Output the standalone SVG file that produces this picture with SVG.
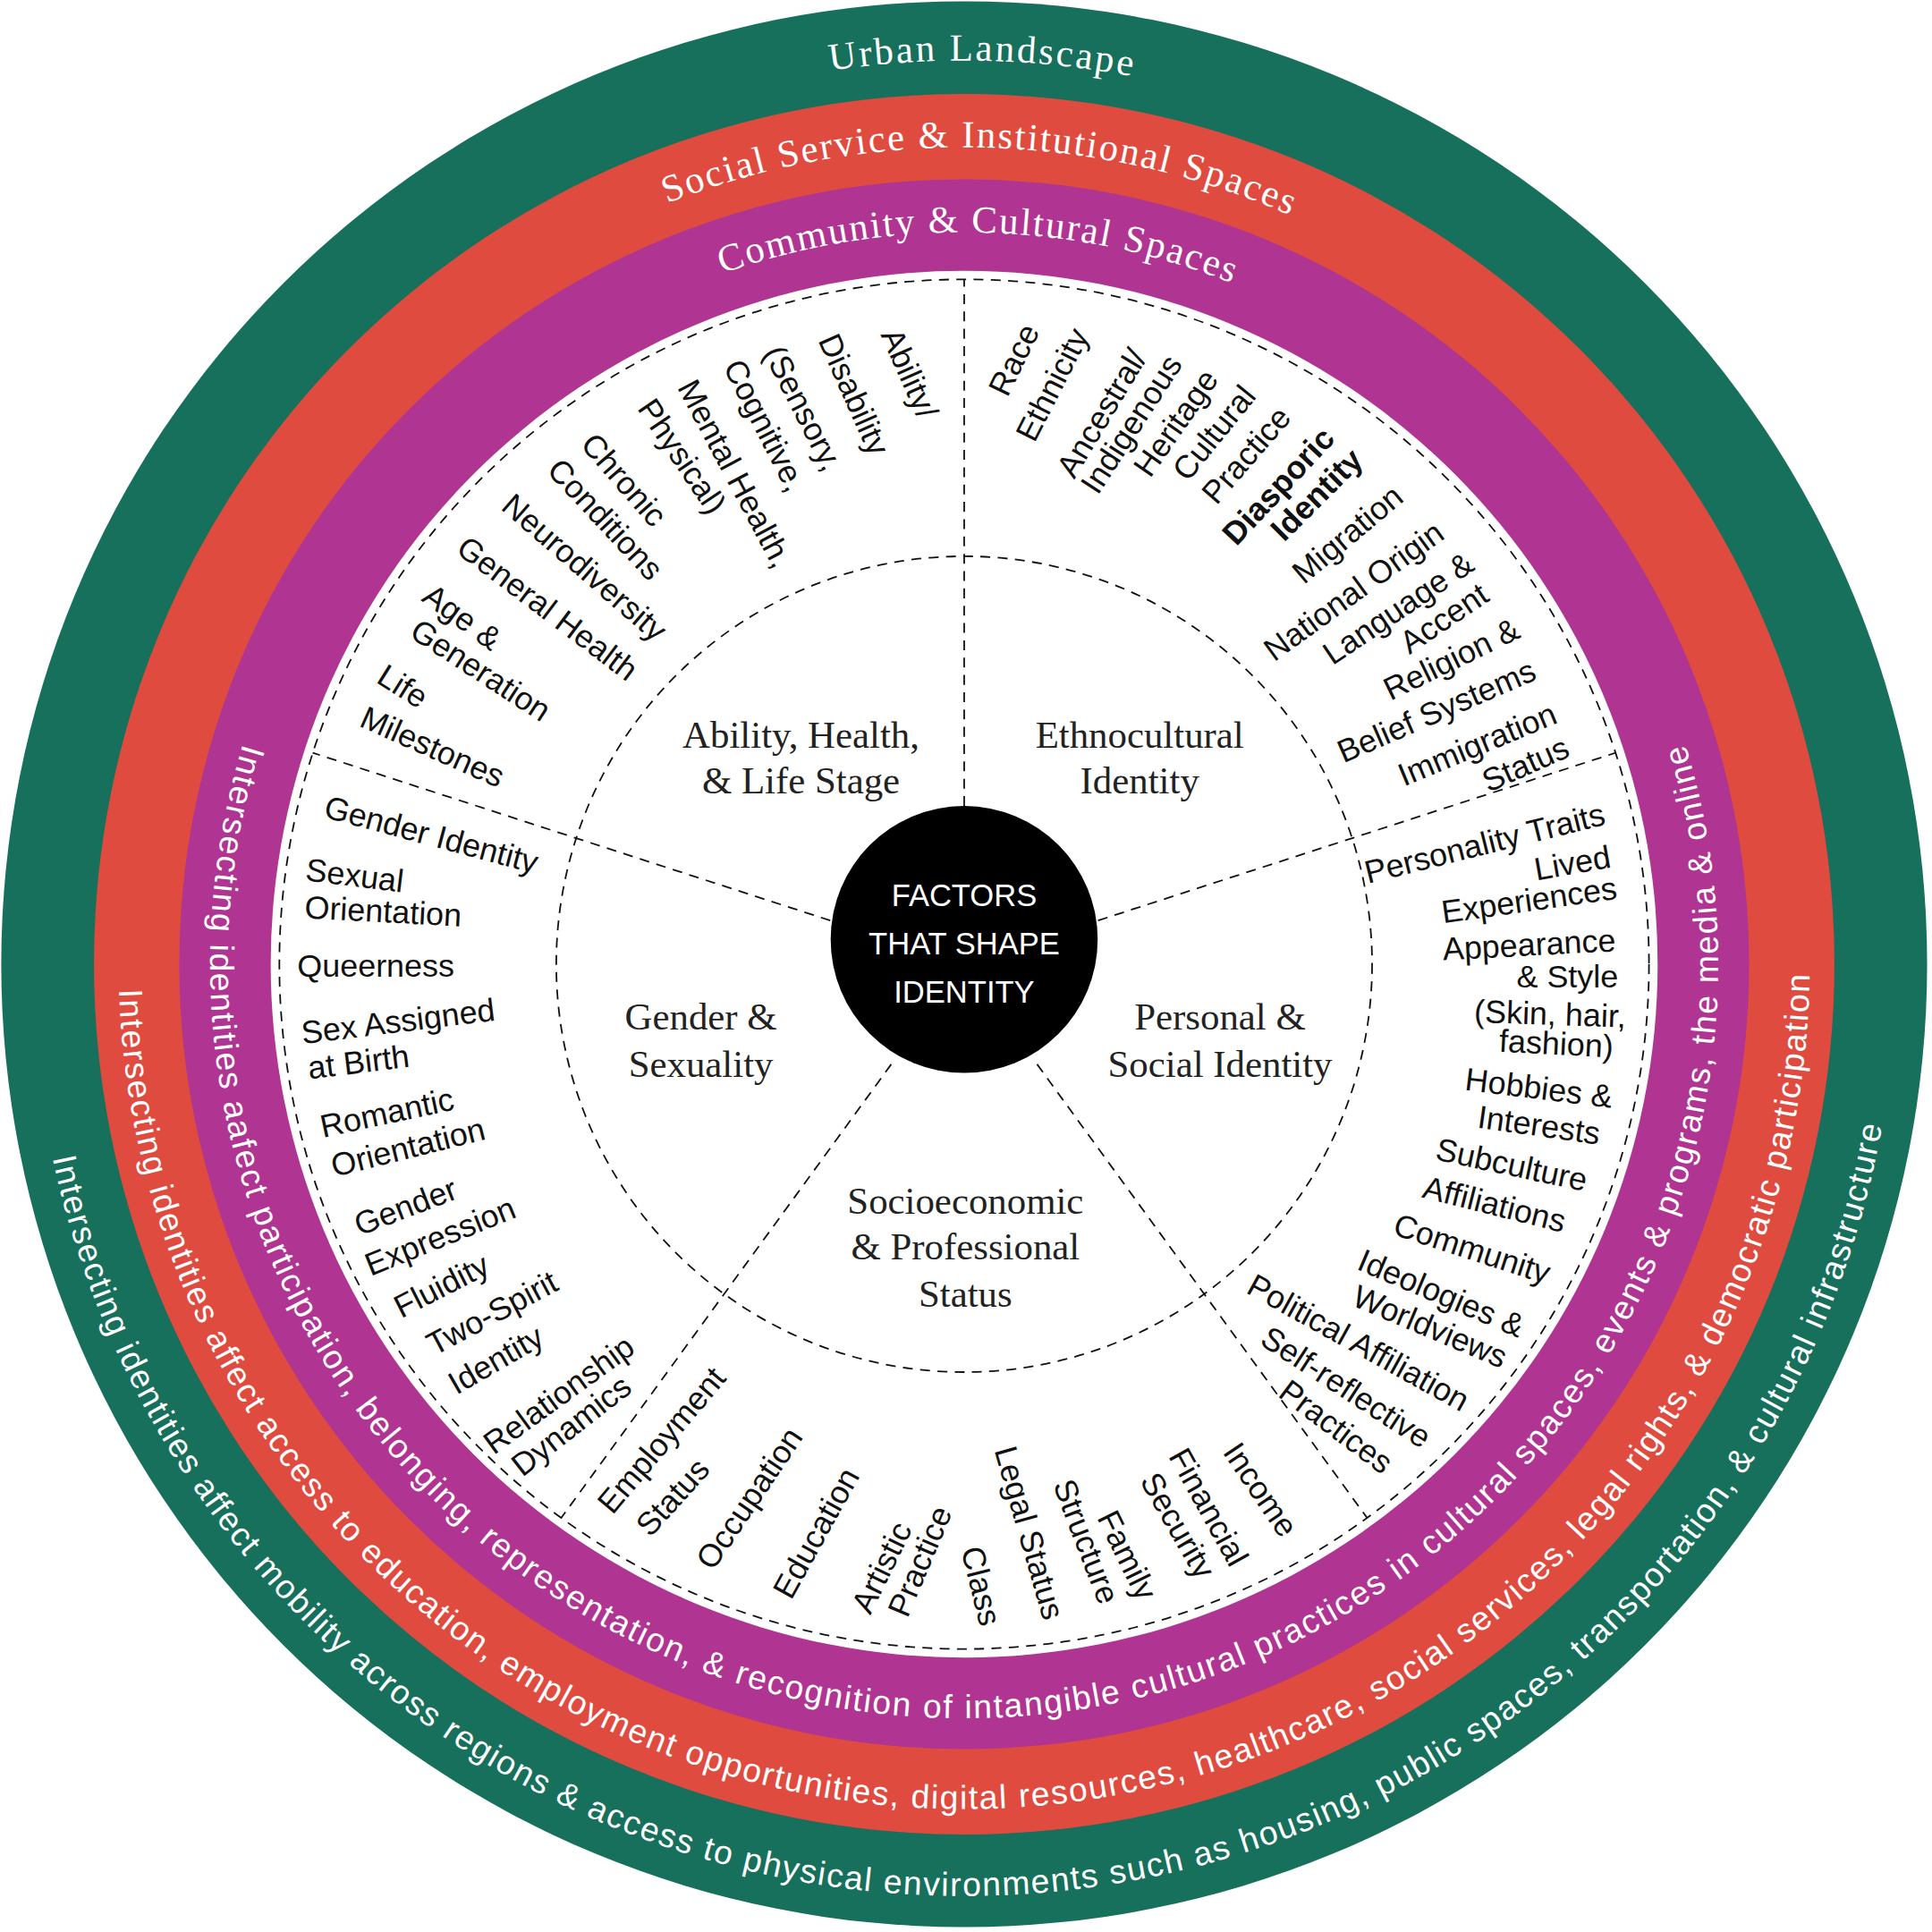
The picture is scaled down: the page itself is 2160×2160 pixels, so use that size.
<svg xmlns="http://www.w3.org/2000/svg" width="2160" height="2160" viewBox="0 0 2160 2160">
<style>
.ring{font-family:"Liberation Serif",serif;font-size:31px;fill:#fff}
.band{font-family:"Liberation Sans",Arial,sans-serif;font-size:27px;fill:#fff}
.cat{font-family:"Liberation Serif",serif;font-size:31px;fill:#222;text-anchor:middle}
.it{font-family:"Liberation Sans",Arial,sans-serif;font-size:26px;fill:#111;text-anchor:middle}
.b{font-weight:bold}
.ctr{font-family:"Liberation Sans",Arial,sans-serif;font-size:25px;fill:#fff;text-anchor:middle}
.dash{fill:none;stroke:#111;stroke-width:1.3;stroke-dasharray:8 6}
</style>
<defs>
<path id="pUrban" d="M49,780 A731,731 0 0 1 1511,780"/>
<path id="pSocial" d="M119,780 A661,661 0 0 1 1441,780"/>
<path id="pComm" d="M188,780 A592,592 0 0 1 1372,780"/>
<path id="pGreen" d="M42.5,936.8 A754,754 0 0 0 1522.5,910.9"/>
<path id="pRed" d="M96.3,800.3 A684,684 0 0 0 1463.9,790.1"/>
<path id="pMag" d="M196.7,601.6 A610,610 0 1 0 1363.3,601.6"/>
</defs>
<g transform="scale(1.382)">
<g id="rings">
<circle cx="780" cy="780" r="779" fill="#17705B"/>
<circle cx="780" cy="780" r="704" fill="#E04B3F"/>
<circle cx="780" cy="780" r="635" fill="#B03592"/>
<circle cx="780" cy="780" r="561" fill="#fff"/>
<circle class="dash" cx="780" cy="780" r="554"/>
<circle class="dash" cx="780" cy="780" r="330"/>
</g>
<g id="ring-labels">
<text class="ring" textLength="245" lengthAdjust="spacing"><textPath href="#pUrban" startOffset="50.6%" text-anchor="middle">Urban Landscape</textPath></text>
<text class="ring" textLength="517" lengthAdjust="spacing"><textPath href="#pSocial" startOffset="50.6%" text-anchor="middle">Social Service &amp; Institutional Spaces</textPath></text>
<text class="ring" textLength="421" lengthAdjust="spacing"><textPath href="#pComm" startOffset="50.6%" text-anchor="middle">Community &amp; Cultural Spaces</textPath></text>
<text class="band" textLength="2079" lengthAdjust="spacing"><textPath href="#pGreen">Intersecting identities affect mobility across regions &amp; access to physical environments such as housing, public spaces, transportation, &amp; cultural infrastructure</textPath></text>
<text class="band" textLength="2119" lengthAdjust="spacing"><textPath href="#pRed">Intersecting identities affect access to education, employment opportunities, digital resources, healthcare, social services, legal rights, &amp; democratic participation</textPath></text>
<text class="band" textLength="2278" lengthAdjust="spacing"><textPath href="#pMag">Intersecting identities aafect participation, belonging, representation, &amp; recognition of intangible cultural practices in cultural spaces, events &amp; programs, the media &amp; online</textPath></text>
</g>
<g id="connectors">
<line class="dash" x1="780" y1="680" x2="780" y2="226"/>
<line class="dash" x1="685" y1="749" x2="253" y2="609"/>
<line class="dash" x1="875" y1="749" x2="1307" y2="609"/>
<line class="dash" x1="721" y1="861" x2="454" y2="1228"/>
<line class="dash" x1="839" y1="861" x2="1106" y2="1228"/>
</g>
<g id="center">
<circle cx="780" cy="760" r="108" fill="#000"/>
<text class="ctr" x="780" y="733">FACTORS</text>
<text class="ctr" x="780" y="772">THAT SHAPE</text>
<text class="ctr" x="780" y="811">IDENTITY</text>
</g>
<g id="ability">
<text class="cat" x="648" y="605">Ability, Health,</text>
<text class="cat" x="648" y="642">&amp; Life Stage</text>
<text class="it" dy=".35em" transform="translate(736,302) rotate(66)">Ability/</text>
<text class="it" dy=".35em" transform="translate(691,319) rotate(66)">Disability</text>
<text class="it" dy=".35em" transform="translate(650,330) rotate(63)">(Sensory,</text>
<text class="it" dy=".35em" transform="translate(619,344) rotate(63)">Cognitive,</text>
<text class="it" dy=".35em" transform="translate(595,383) rotate(62)">Mental Health,</text>
<text class="it" dy=".35em" transform="translate(552,369) rotate(56)">Physical)</text>
<text class="it" dy=".35em" transform="translate(505,388) rotate(49)">Chronic</text>
<text class="it" dy=".35em" transform="translate(490,420) rotate(47)">Conditions</text>
<text class="it" dy=".35em" transform="translate(473,459) rotate(41)">Neurodiversity</text>
<text class="it" dy=".35em" transform="translate(443,492) rotate(37)">General Health</text>
<text class="it" dy=".35em" transform="translate(374,499) rotate(36)">Age &amp;</text>
<text class="it" dy=".35em" transform="translate(389,542) rotate(33)">Generation</text>
<text class="it" dy=".35em" transform="translate(326,555) rotate(32)">Life</text>
<text class="it" dy=".35em" transform="translate(350,604) rotate(24)">Milestones</text>
</g>
<g id="ethnocultural">
<text class="cat" x="922" y="605">Ethnocultural</text>
<text class="cat" x="922" y="642">Identity</text>
<text class="it" dy=".35em" transform="translate(820,291) rotate(-64)">Race</text>
<text class="it" dy=".35em" transform="translate(851,311) rotate(-63)">Ethnicity</text>
<text class="it" dy=".35em" transform="translate(891,334) rotate(-59)">Ancestral/</text>
<text class="it" dy=".35em" transform="translate(915,343) rotate(-57)">Indigenous</text>
<text class="it" dy=".35em" transform="translate(951,342) rotate(-55)">Heritage</text>
<text class="it" dy=".35em" transform="translate(982,350) rotate(-51)">Cultural</text>
<text class="it" dy=".35em" transform="translate(1008,368) rotate(-49)">Practice</text>
<text class="it b" dy=".35em" transform="translate(1034,393) rotate(-47)">Diasporic</text>
<text class="it b" dy=".35em" transform="translate(1065,400) rotate(-45)">Identity</text>
<text class="it" dy=".35em" transform="translate(1090,432) rotate(-40)">Migration</text>
<text class="it" dy=".35em" transform="translate(1095,478) rotate(-36)">National Origin</text>
<text class="it" dy=".35em" transform="translate(1131,492) rotate(-34)">Language &amp;</text>
<text class="it" dy=".35em" transform="translate(1168,500) rotate(-34)">Accent</text>
<text class="it" dy=".35em" transform="translate(1174,533) rotate(-26)">Religion &amp;</text>
<text class="it" dy=".35em" transform="translate(1162,575) rotate(-23.5)">Belief Systems</text>
<text class="it" dy=".35em" transform="translate(1195,602) rotate(-22.5)">Immigration</text>
<text class="it" dy=".35em" transform="translate(1234,618) rotate(-24)">Status</text>
</g>
<g id="gender">
<text class="cat" x="567" y="833">Gender &amp;</text>
<text class="cat" x="567" y="871">Sexuality</text>
<text class="it" dy=".35em" transform="translate(349,675) rotate(15)">Gender Identity</text>
<text class="it" dy=".35em" transform="translate(287,708) rotate(7)">Sexual</text>
<text class="it" dy=".35em" transform="translate(310,737) rotate(3)">Orientation</text>
<text class="it" dy=".35em" transform="translate(304,781) rotate(0)">Queerness</text>
<text class="it" dy=".35em" transform="translate(322,826) rotate(-7)">Sex Assigned</text>
<text class="it" dy=".35em" transform="translate(290,859) rotate(-7)">at Birth</text>
<text class="it" dy=".35em" transform="translate(313,900) rotate(-12)">Romantic</text>
<text class="it" dy=".35em" transform="translate(330,928) rotate(-14)">Orientation</text>
<text class="it" dy=".35em" transform="translate(328,976) rotate(-21)">Gender</text>
<text class="it" dy=".35em" transform="translate(356,1000) rotate(-22)">Expression</text>
<text class="it" dy=".35em" transform="translate(357,1040) rotate(-27)">Fluidity</text>
<text class="it" dy=".35em" transform="translate(398,1062) rotate(-28)">Two-Spirit</text>
<text class="it" dy=".35em" transform="translate(401,1100) rotate(-30)">Identity</text>
<text class="it" dy=".35em" transform="translate(452,1128) rotate(-36)">Relationship</text>
<text class="it" dy=".35em" transform="translate(462,1153) rotate(-38)">Dynamics</text>
</g>
<g id="personal">
<text class="cat" x="987" y="833">Personal &amp;</text>
<text class="cat" x="987" y="871">Social Identity</text>
<text class="it" dy=".35em" transform="translate(1201,682) rotate(-14)">Personality Traits</text>
<text class="it" dy=".35em" transform="translate(1272,698) rotate(-10)">Lived</text>
<text class="it" dy=".35em" transform="translate(1237,728) rotate(-8)">Experiences</text>
<text class="it" dy=".35em" transform="translate(1237,764) rotate(-3)">Appearance</text>
<text class="it" dy=".35em" transform="translate(1268,790) rotate(0)">&amp; Style</text>
<text class="it" dy=".35em" transform="translate(1254,820) rotate(2)">(Skin, hair,</text>
<text class="it" dy=".35em" transform="translate(1259,844) rotate(3)">fashion)</text>
<text class="it" dy=".35em" transform="translate(1245,880) rotate(7)">Hobbies &amp;</text>
<text class="it" dy=".35em" transform="translate(1245,910) rotate(8)">Interests</text>
<text class="it" dy=".35em" transform="translate(1223,942) rotate(12)">Subculture</text>
<text class="it" dy=".35em" transform="translate(1209,974) rotate(14)">Affiliations</text>
<text class="it" dy=".35em" transform="translate(1191,1010) rotate(18)">Community</text>
<text class="it" dy=".35em" transform="translate(1166,1046) rotate(23)">Ideologies &amp;</text>
<text class="it" dy=".35em" transform="translate(1157,1073) rotate(23)">Worldviews</text>
<text class="it" dy=".35em" transform="translate(1099,1086) rotate(29)">Political Affiliation</text>
<text class="it" dy=".35em" transform="translate(1089,1122) rotate(33)">Self-reflective</text>
<text class="it" dy=".35em" transform="translate(1081,1154) rotate(37)">Practices</text>
</g>
<g id="socioeconomic">
<text class="cat" x="781" y="982">Socioeconomic</text>
<text class="cat" x="781" y="1019">&amp; Professional</text>
<text class="cat" x="781" y="1057">Status</text>
<text class="it" dy=".35em" transform="translate(535,1165) rotate(-50)">Employment</text>
<text class="it" dy=".35em" transform="translate(544,1211) rotate(-48)">Status</text>
<text class="it" dy=".35em" transform="translate(606,1212) rotate(-56)">Occupation</text>
<text class="it" dy=".35em" transform="translate(660,1240) rotate(-61)">Education</text>
<text class="it" dy=".35em" transform="translate(713,1268) rotate(-64)">Artistic</text>
<text class="it" dy=".35em" transform="translate(744,1263) rotate(-67)">Practice</text>
<text class="it" dy=".35em" transform="translate(794,1283) rotate(76)">Class</text>
<text class="it" dy=".35em" transform="translate(833,1240) rotate(74)">Legal Status</text>
<text class="it" dy=".35em" transform="translate(879,1247) rotate(69)">Structure</text>
<text class="it" dy=".35em" transform="translate(912,1258) rotate(64)">Family</text>
<text class="it" dy=".35em" transform="translate(978,1219) rotate(61)">Financial</text>
<text class="it" dy=".35em" transform="translate(953,1234) rotate(60)">Security</text>
<text class="it" dy=".35em" transform="translate(1020,1205) rotate(56)">Income</text>
</g>
</g>
</svg>
